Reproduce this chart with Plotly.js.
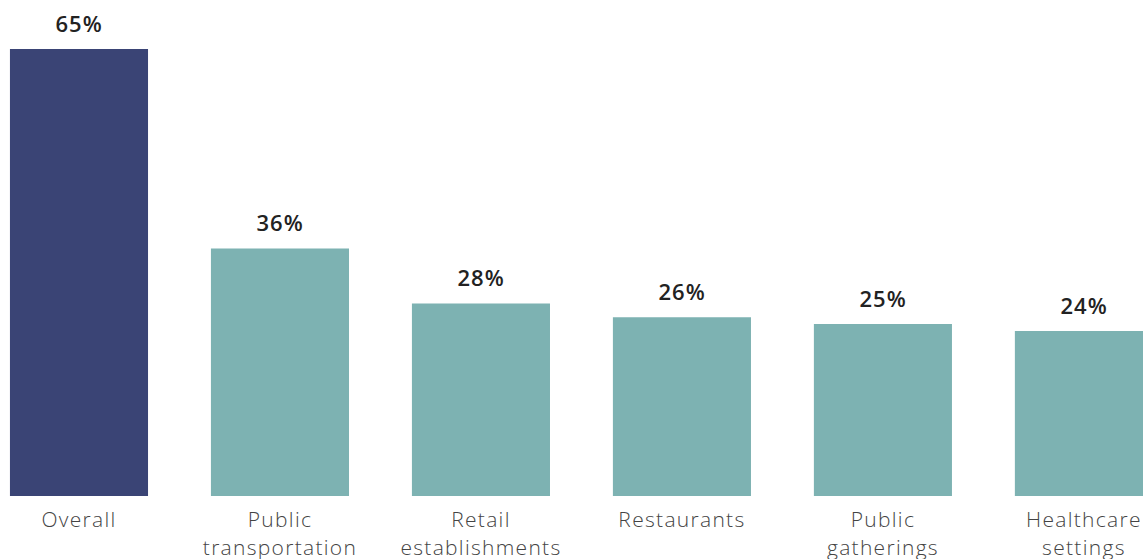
<!DOCTYPE html>
<html>
<head>
<meta charset="utf-8">
<script src="https://cdn.plot.ly/plotly-3.0.1.min.js"></script>
<style>
html,body{margin:0;padding:0;background:#fff;}
#chart{width:1143px;height:559px;}
#chart .xtick text{letter-spacing:1.3px;}
#chart .annotation-text{letter-spacing:1px;}
</style>
</head>
<body>
<div id="chart"></div>
<script>
const categories = ["Overall", "Public<br>transportation", "Retail<br>establishments", "Restaurants", "Public<br>gatherings", "Healthcare<br>settings"];
const values = [65, 36, 28, 26, 25, 24];
const valueLabels = ["65%", "36%", "28%", "26%", "25%", "24%"];
const barColors = ["#3a4475", "#7db2b2", "#7db2b2", "#7db2b2", "#7db2b2", "#7db2b2"];

const FONT = "'Open Sans', 'Noto Sans', sans-serif";

const trace = {
  type: "bar",
  x: categories,
  y: values,
  marker: {color: barColors},
  hoverinfo: "none",
  width: 0.687
};

const annotations = categories.map((c, i) => ({
  x: c, y: values[i], text: valueLabels[i],
  xref: "x", yref: "y", showarrow: false,
  yanchor: "bottom", yshift: 9,
  font: {family: FONT, size: 22, color: "#222222", weight: 600}
}));

const layout = {
  width: 1143, height: 559,
  margin: {l: 0, r: 0, t: 0, b: 63},
  paper_bgcolor: "#ffffff", plot_bgcolor: "#ffffff",
  showlegend: false,
  xaxis: {
    type: "category",
    range: [-0.393, 5.294],
    showgrid: false, zeroline: false, showline: false,
    ticks: "outside", ticklen: 5, tickcolor: "rgba(0,0,0,0)",
    tickfont: {family: FONT, size: 21, color: "#444444", weight: 300}
  },
  yaxis: {
    range: [0, 72.12],
    visible: false, showgrid: false, zeroline: false
  },
  annotations: annotations
};

Plotly.newPlot("chart", [trace], layout, {displayModeBar: false, staticPlot: true});
</script>
</body>
</html>
